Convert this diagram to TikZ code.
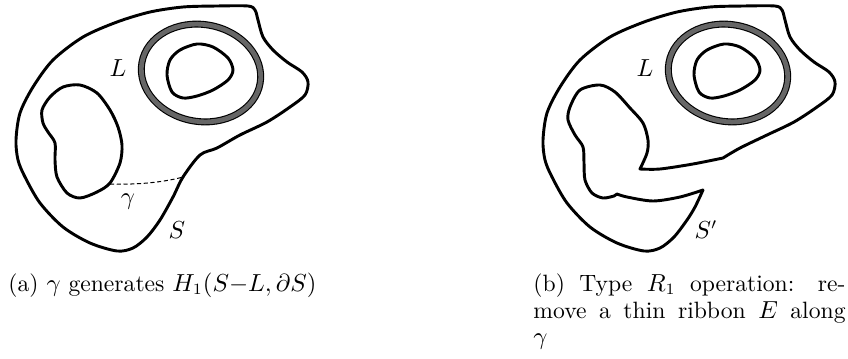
\documentclass[tikz,border=0pt]{standalone}
\usepackage{amsmath}
\begin{document}
\begin{tikzpicture}[x=0.4444pt,y=-0.4444pt,
  outline/.style={line width=1.3pt,line join=round},
  ringblack/.style={line width=3.1pt,black},
  ringgray/.style={line width=2.1pt,ringgrey},
  gammaline/.style={line width=0.45pt,dash pattern=on 1.8pt off 1.2pt},
  lab/.style={inner sep=0pt,font=\fontsize{10.5}{12.6}\selectfont}]
\definecolor{ringgrey}{RGB}{102,102,102}
\useasboundingbox (0,0) rectangle (848,358);

% ---------- (a) ----------
\draw[outline] plot[smooth cycle] coordinates {(248,6) (255,10) (258,20) (263,37) (273,50) (287,62) (302,72) (308,82) (305,95) (290,107) (267,122) (240,135) (217,148) (200,155) (183,177) (173,197) (160,220) (147,237) (133,248) (117,251) (90,243) (63,227) (40,203) (25,177) (18,160) (16,140) (20,113) (33,87) (53,60) (83,37) (117,22) (150,12) (183,7) (217,6)};
\draw[outline] plot[smooth cycle] coordinates {(80,85) (97,93) (110,110) (118,127) (122,145) (120,163) (110,183) (97,192) (80,198) (67,193) (57,177) (55,160) (55,143) (48,132) (43,123) (42,110) (50,97) (63,87)};
\draw[ringblack,rotate around={-10:(201,73)}] (201,73) ellipse [x radius=60,y radius=48.5];
\draw[ringgray,rotate around={-10:(201,73)}] (201,73) ellipse [x radius=60,y radius=48.5];
\draw[outline] plot[smooth cycle] coordinates {(167,75) (170,60) (180,50) (197,44) (213,47) (228,58) (233,70) (228,80) (213,90) (197,96) (183,98) (172,92)};
\coordinate (g1) at (110,184);
\coordinate (g2) at (183,177);
\draw[gammaline] (g1) .. controls (138,185) and (165,182) .. (g2);
\node[lab] (La) at (118,68) {$L$};
\node[lab] (ga) at (128,202) {$\gamma$};
\node[lab] (Sa) at (177,230) {$S$};
\node[lab,anchor=base west] (capA) at (8,291) {(a) $\gamma$ generates $H_1(S{-}L,\partial S)$};

% ---------- (b) ----------
\begin{scope}[shift={(527,0)}]
\draw[outline] plot[smooth] coordinates {(176,190) (168,207) (160,220) (147,237) (133,248) (117,251) (90,243) (63,227) (40,203) (25,177) (18,160) (16,140) (20,113) (33,87) (53,60) (83,37) (117,22) (150,12) (183,7) (217,6) (248,6) (255,10) (258,20) (263,37) (273,50) (287,62) (302,72) (308,82) (305,95) (290,107) (267,122) (240,135) (213,148) (196,158)}
 -- plot[smooth] coordinates {(196,158) (166,164) (133,169) (113,169)}
 -- plot[smooth] coordinates {(113,169) (120,153) (121,140) (116,123) (103,108) (88,92) (73,85) (53,90) (43,107) (41,120) (48,135) (56,147) (57,163) (58,180) (65,193) (76,198) (87,196)}
 -- plot[smooth] coordinates {(90,194) (100,197) (126,201) (153,197) (176,190)} -- cycle;
\draw[ringblack,rotate around={-10:(201,73)}] (201,73) ellipse [x radius=60,y radius=48.5];
\draw[ringgray,rotate around={-10:(201,73)}] (201,73) ellipse [x radius=60,y radius=48.5];
\draw[outline] plot[smooth cycle] coordinates {(167,75) (170,60) (180,50) (197,44) (213,47) (228,58) (233,70) (228,80) (213,90) (197,96) (183,98) (172,92)};
\node[lab] (Lb) at (118,68) {$L$};
\node[lab] (Sb) at (179,230) {$S'$};
\end{scope}
\node[lab,anchor=base west] (capB1) at (533,291) {\makebox[138.7pt][s]{(b) Type $R_1$ operation: re-}};
\node[lab,anchor=base west] (capB2) at (533,318) {\makebox[138.7pt][s]{move a thin ribbon $E$ along}};
\node[lab,anchor=base west] (capB3) at (533,344) {$\gamma$};
\end{tikzpicture}
\end{document}
